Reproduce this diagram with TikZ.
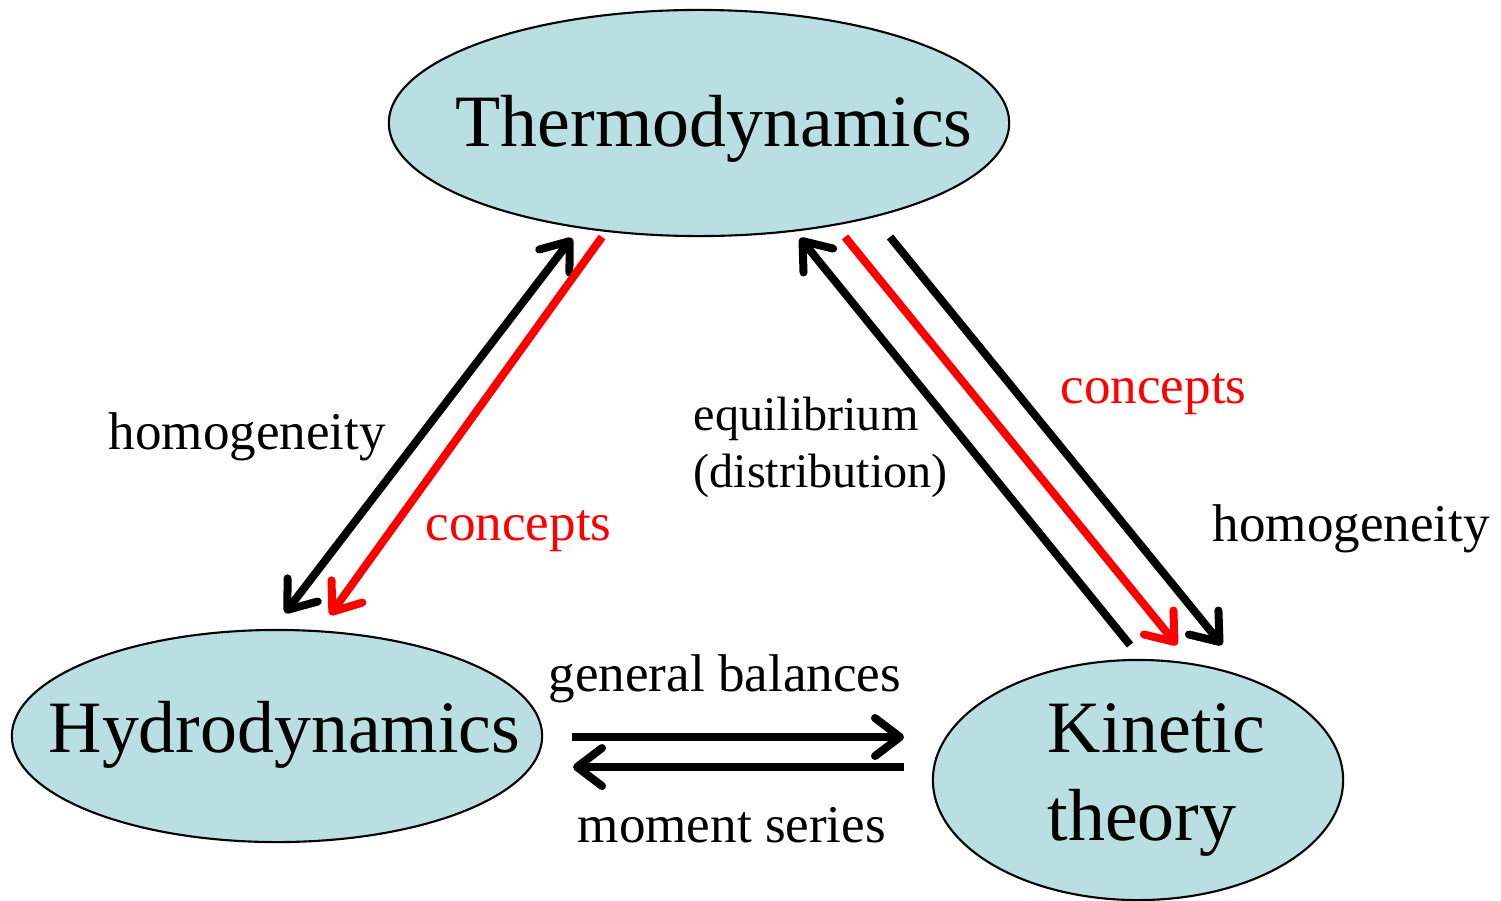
\documentclass[tikz,border=0pt]{standalone}
\usepackage{fontspec}
\setmainfont{Liberation Serif}
\usetikzlibrary{shapes.geometric,arrows.meta}
\definecolor{cellfill}{HTML}{BADFE3}
\definecolor{conceptred}{HTML}{FF0000}
\tikzset{
  blob/.style={draw=black,line width=0.6pt,fill=cellfill,ellipse,inner sep=0pt},
  bigtxt/.style={font=\fontsize{21pt}{25pt}\selectfont,inner sep=0pt,anchor=base west},
  lbl/.style={font=\fontsize{15.1pt}{18pt}\selectfont,inner sep=0pt,anchor=base west},
  smalllbl/.style={font=\fontsize{13.7pt}{16pt}\selectfont,inner sep=0pt,anchor=base west,align=left},
  barb/.tip={Straight Barb[length=0.25cm,width=0.38cm,round]},
  link/.style={line width=0.08cm,-barb},
  dlink/.style={line width=0.08cm,barb-barb},
}
\begin{document}
\begin{tikzpicture}[x=0.01cm,y=-0.01cm]
\useasboundingbox (0,0) rectangle (1501,900);
% ellipses
\node[blob,minimum width=6.2cm,minimum height=2.26cm] (thermo) at (699,123) {};
\node[blob,minimum width=5.3cm,minimum height=2.12cm] (hydro) at (277,736) {};
\node[blob,minimum width=4.1cm,minimum height=2.4cm] (kin) at (1138,780) {};
% texts
\node[bigtxt] (thermoT) at (455,146) {Thermodynamics};
\node[bigtxt] (hydroT) at (48,752) {Hydrodynamics};
\node[bigtxt] (kinT1) at (1047,752) {Kinetic};
\node[bigtxt] (kinT2) at (1047,840) {theory};
% connector end points
\coordinate (a1s) at (285,613); \coordinate (a1e) at (572,238);
\coordinate (a2s) at (602,237); \coordinate (a2e) at (330,615);
\coordinate (a3s) at (1130,645); \coordinate (a3e) at (800,238);
\coordinate (a4s) at (845,237); \coordinate (a4e) at (1177,645);
\coordinate (a5s) at (890,237); \coordinate (a5e) at (1222,645);
\coordinate (a6s) at (572,737); \coordinate (a6e) at (904,737);
\coordinate (a7s) at (904,767); \coordinate (a7e) at (573,767);
% connectors
\draw[dlink] (a1s) -- (a1e);
\draw[link,conceptred] (a2s) -- (a2e);
\draw[link] (a3s) -- (a3e);
\draw[link,conceptred] (a4s) -- (a4e);
\draw[link] (a5s) -- (a5e);
\draw[link] (a6s) -- (a6e);
\draw[link] (a7s) -- (a7e);
% labels
\node[lbl] (hom1) at (108,449) {homogeneity};
\node[lbl,text=conceptred] (con1) at (425,540) {concepts};
\node[smalllbl] (eq1) at (693,430) {equilibrium};
\node[smalllbl] (eq2) at (693,487) {(distribution)};
\node[lbl,text=conceptred] (con2) at (1060,403) {concepts};
\node[lbl] (hom2) at (1212,541) {homogeneity};
\node[lbl] (gb) at (548,691) {general balances};
\node[lbl] (ms) at (577,842) {moment series};
\end{tikzpicture}
\end{document}
